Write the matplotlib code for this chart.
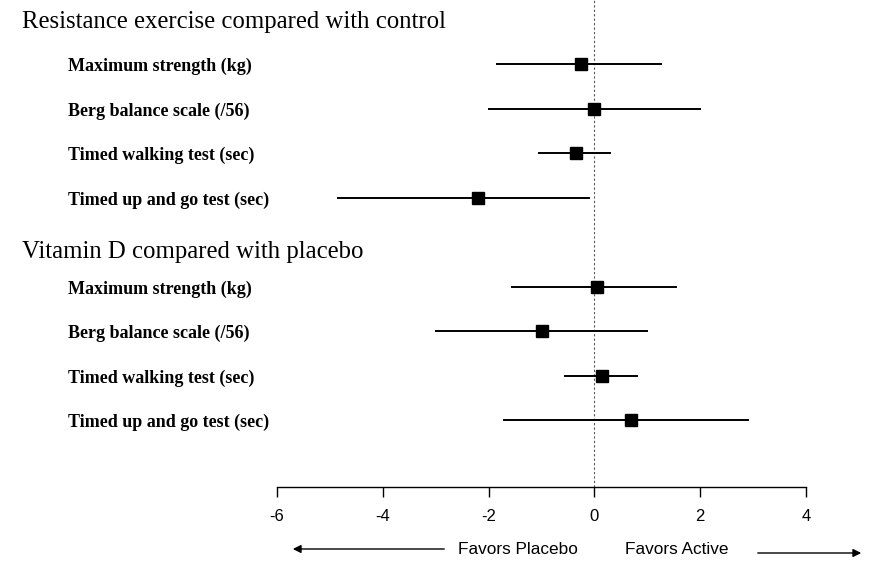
import matplotlib
matplotlib.use("Agg")
import matplotlib.pyplot as plt
import matplotlib.transforms as mtransforms

# section headers and outcome labels
groups = ["Resistance exercise compared with control", "Vitamin D compared with placebo"]
outcomes = ["Maximum strength (kg)", "Berg balance scale (/56)",
            "Timed walking test (sec)", "Timed up and go test (sec)"]

# effect estimates (mean difference) with 95% CI
resist_est = [-0.25, 0.0, -0.35, -2.2]
resist_lo = [-1.85, -2.0, -1.05, -4.85]
resist_hi = [1.25, 2.0, 0.3, -0.1]

vitd_est = [0.05, -1.0, 0.15, 0.7]
vitd_lo = [-1.55, -3.0, -0.55, -1.7]
vitd_hi = [1.55, 1.0, 0.8, 2.9]

xticks = [-6, -4, -2, 0, 2, 4]

fig = plt.figure(figsize=(8.74, 5.64), dpi=100)
ax = fig.add_axes([277 / 874, 1 - 487 / 564, 529 / 874, 487 / 564])
ax.set_xlim(-6, 4)
ax.set_ylim(10.5, -0.45)

header_y = [0.05, 5.22]
row_y = [[1, 2, 3, 4], [6, 7, 8, 9]]
series = [(resist_est, resist_lo, resist_hi), (vitd_est, vitd_lo, vitd_hi)]

ax.axvline(0, color="#555555", lw=0.8, ls=(0, (2, 2)), zorder=1)

lbl_tf = mtransforms.blended_transform_factory(fig.transFigure, ax.transData)
for g, hy, ys, (est, lo, hi) in zip(groups, header_y, row_y, series):
    fig.text(22 / 874, hy, g, transform=lbl_tf, family="Liberation Serif",
             fontsize=17.8, va="center", ha="left")
    for name, y, e, l, h in zip(outcomes, ys, est, lo, hi):
        fig.text(68 / 874, y + 0.05, name, transform=lbl_tf, family="Liberation Serif",
                 fontweight="bold", fontsize=13, va="center", ha="left")
        ax.plot([l, h], [y, y], color="black", lw=1.4, zorder=2)
        ax.plot([e], [y], marker="s", ms=8.5, color="black", zorder=3)

for s in ["top", "left", "right"]:
    ax.spines[s].set_visible(False)
ax.spines["bottom"].set_linewidth(1.0)
ax.set_yticks([])
ax.set_xticks(xticks)
ax.set_xticklabels([str(t) for t in xticks], family="Liberation Sans", fontsize=12)
ax.tick_params(axis="x", direction="out", length=7, width=1.0, pad=9)
ax.patch.set_visible(False)

# favours labels with arrows below the axis
fig.text(518 / 874, 1 - 549 / 564, "Favors Placebo", family="Liberation Sans",
         fontsize=12.4, ha="center", va="center")
fig.text(677 / 874, 1 - 549 / 564, "Favors Active", family="Liberation Sans",
         fontsize=12.4, ha="center", va="center")
fig.add_artist(matplotlib.patches.FancyArrowPatch(
    (447 / 874, 1 - 549 / 564), (290 / 874, 1 - 549 / 564),
    transform=fig.transFigure, arrowstyle="-|>", mutation_scale=12, lw=1.0, color="black"))
fig.add_artist(matplotlib.patches.FancyArrowPatch(
    (755 / 874, 1 - 553 / 564), (864 / 874, 1 - 553 / 564),
    transform=fig.transFigure, arrowstyle="-|>", mutation_scale=12, lw=1.0, color="black"))

fig.savefig("out.png", dpi=100)
